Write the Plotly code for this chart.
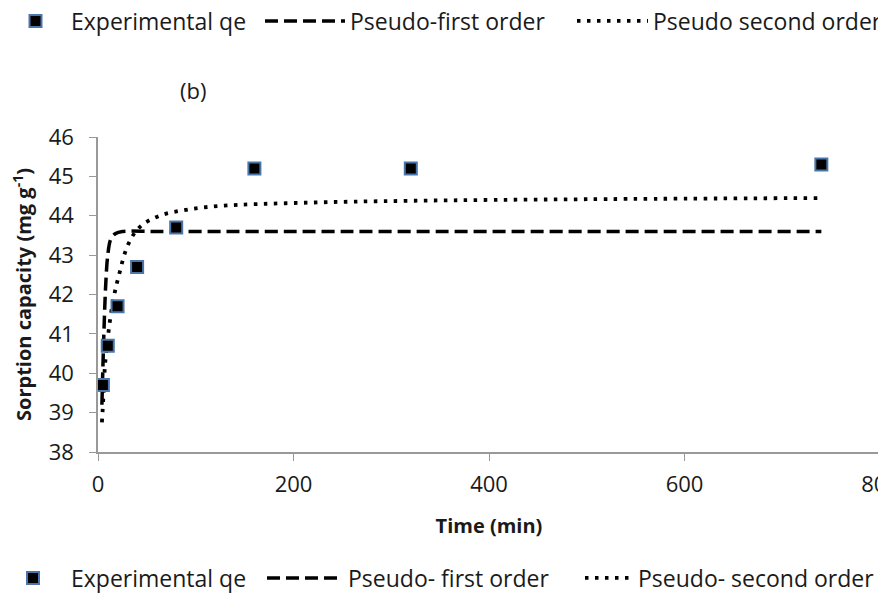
import plotly.graph_objects as go

# Experimental data
time_exp = [5, 10, 20, 40, 80, 160, 320, 740]
qe_exp = [39.7, 40.7, 41.7, 42.7, 43.7, 45.2, 45.2, 45.3]

# Pseudo-first order curve
time_pfo = [4, 6, 8, 10, 13, 18, 25, 60, 200, 400, 740]
q_pfo = [39.2, 41.0, 42.3, 43.0, 43.4, 43.55, 43.6, 43.6, 43.6, 43.6, 43.6]

# Pseudo-second order curve
time_pso = [4, 5.5, 7, 10.5, 15.5, 21, 31, 43, 63, 90, 125, 210, 320, 500, 740]
q_pso = [38.75, 39.4, 40.15, 41.0, 41.85, 42.45, 43.28, 43.72, 44.0, 44.15, 44.25, 44.33, 44.38, 44.42, 44.45]

x_ticks = [0, 200, 400, 600, 800]
y_ticks = [38, 39, 40, 41, 42, 43, 44, 45, 46]

names_top = ["Experimental qe", "Pseudo-first order", "Pseudo second order"]
names_bottom = ["Experimental qe", "Pseudo- first order", "Pseudo- second order"]

FONT = "Open Sans, Liberation Sans, sans-serif"
TXT = "#1a1a1a"

marker_style = dict(symbol="square", size=12, color="black",
                    line=dict(color="#4a76ab", width=2))
dash_style = dict(color="black", width=3.5, dash="13px,6px")
dot_style = dict(color="black", width=3.8, dash="3.5px,6.5px")

fig = go.Figure()

fig.add_trace(go.Scatter(x=time_pfo, y=q_pfo, mode="lines", name=names_top[1],
                         line=dash_style, line_shape="spline", legend="legend2"))
fig.add_trace(go.Scatter(x=time_pso, y=q_pso, mode="lines", name=names_top[2],
                         line=dot_style, line_shape="spline", legend="legend3"))
fig.add_trace(go.Scatter(x=time_exp, y=qe_exp, mode="markers", name=names_top[0],
                         marker=marker_style, legend="legend"))

# bottom legend entries (same series, second legend as in the original)
fig.add_trace(go.Scatter(x=[None], y=[None], mode="markers", name=names_bottom[0],
                         marker=marker_style, legend="legend4"))
fig.add_trace(go.Scatter(x=[None], y=[None], mode="lines", name=names_bottom[1],
                         line=dash_style, legend="legend5"))
fig.add_trace(go.Scatter(x=[None], y=[None], mode="lines", name=names_bottom[2],
                         line=dot_style, legend="legend6"))

OFF = 8  # page body margin
W, H = 886 - OFF, 597 - OFF
L, T = 98 - OFF, 137 - OFF
R = 886 - 880
B = 597 - 452
pw = W - L - R
ph = H - T - B


def px2x(p):
    return (p - OFF - L) / pw


def py2y(p):
    return (T + ph - (p - OFF)) / ph


def leg(xp, yp, iw):
    return dict(x=px2x(xp), y=py2y(yp), xanchor="left", yanchor="middle",
                orientation="h", bgcolor="rgba(0,0,0,0)", borderwidth=0,
                itemwidth=iw,
                font=dict(family=FONT, size=23, color=TXT))


fig.update_layout(
    width=W, height=H,
    margin=dict(l=L, r=R, t=T, b=B, autoexpand=False),
    paper_bgcolor="white", plot_bgcolor="white",
    font=dict(family=FONT, color=TXT),
    showlegend=True,
    legend=leg(0, 21, 61),
    legend2=leg(260, 21, 80),
    legend3=leg(572, 21, 71),
    legend4=leg(-5, 578, 66),
    legend5=leg(262, 578, 76),
    legend6=leg(580, 578, 48),
    xaxis=dict(range=[0, 800], tickvals=x_ticks, ticks="outside", ticklen=7,
               tickcolor="#999", showline=True, linecolor="#999", linewidth=1.5,
               showgrid=False, zeroline=False, automargin=False,
               ticklabelstandoff=5, ticklabeloverflow="allow",
               tickfont=dict(family=FONT, size=22, color=TXT),
               title=dict(text="<b>Time (min)</b>", standoff=22,
                          font=dict(family=FONT, size=20, color=TXT))),
    yaxis=dict(range=[38, 46], tickvals=y_ticks, ticks="outside", ticklen=7,
               tickcolor="#999", showline=True, linecolor="#999", linewidth=1.5,
               showgrid=False, zeroline=False, automargin=False,
               ticklabelstandoff=11,
               tickfont=dict(family=FONT, size=22, color=TXT),
               title=dict(text="<b>Sorption capacity (mg g<sup>-1</sup>)</b>", standoff=14,
                          font=dict(family=FONT, size=20, color=TXT))),
    annotations=[dict(text="(b)", x=px2x(193), y=py2y(90), xref="paper", yref="paper",
                      xanchor="center", yanchor="middle",
                      showarrow=False, font=dict(family=FONT, size=22, color=TXT))],
)

fig.write_html("out.html")
